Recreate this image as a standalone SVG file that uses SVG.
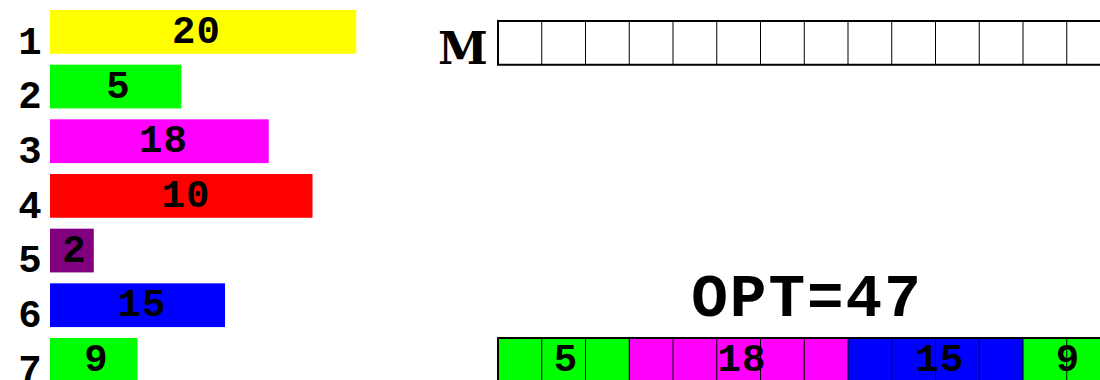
<svg xmlns="http://www.w3.org/2000/svg" width="1100" height="380" viewBox="0 0 1100 380">
<style>
text{font-family:"Liberation Mono","DejaVu Sans Mono",monospace;font-weight:bold;fill:#000}
.lbl{font-size:39px;text-anchor:middle;letter-spacing:1px}
.num{font-size:39px;text-anchor:middle}
.big{font-size:61px;text-anchor:middle;letter-spacing:2px}
.cell{fill:none;stroke:#000;stroke-width:1}
.frame{fill:none;stroke:#000;stroke-width:2}
</style>
<rect width="1100" height="380" fill="#fff"/>
<g id="items">
  <g id="item1"><rect x="50" y="10" width="306.25" height="43.75" fill="#ffff00"/><text class="lbl" x="196.5" y="43">20</text><text class="num" x="30" y="53.5">1</text></g>
  <g id="item2"><rect x="50" y="64.67" width="131.25" height="43.75" fill="#00ff00"/><text class="num" x="118" y="97.7">5</text><text class="num" x="30" y="108.2">2</text></g>
  <g id="item3"><rect x="50" y="119.33" width="218.75" height="43.75" fill="#ff00ff"/><text class="lbl" x="163.5" y="152.3">18</text><text class="num" x="30" y="162.9">3</text></g>
  <g id="item4"><rect x="50" y="174" width="262.5" height="43.75" fill="#ff0000"/><text class="lbl" x="186" y="207">10</text><text class="num" x="30" y="217.6">4</text></g>
  <g id="item5"><rect x="50" y="228.67" width="43.75" height="43.75" fill="#800080"/><text class="num" x="74" y="261.7">2</text><text class="num" x="30" y="272.3">5</text></g>
  <g id="item6"><rect x="50" y="283.33" width="175" height="43.75" fill="#0000ff"/><text class="lbl" x="142" y="316.3">15</text><text class="num" x="30" y="326.9">6</text></g>
  <g id="item7"><rect x="50" y="338" width="87.5" height="43.75" fill="#00ff00"/><text class="num" x="96" y="371">9</text><text class="num" x="30" y="381.5">7</text></g>
</g>
<g id="memory">
  <text x="463" y="63.5" style="font-family:'DejaVu Serif','Liberation Serif',serif;font-size:45px;text-anchor:middle">M</text>
  <rect class="frame" x="498" y="21" width="612.5" height="43.75"/>
  <path class="cell" stroke="#555" d="M541.75 21V64.75M585.5 21V64.75M629.25 21V64.75M673 21V64.75M716.75 21V64.75M760.5 21V64.75M804.25 21V64.75M848 21V64.75M891.75 21V64.75M935.5 21V64.75M979.25 21V64.75M1023 21V64.75M1066.75 21V64.75"/>
</g>
<g id="opt">
  <text class="big" x="807" y="316">OPT=47</text>
</g>
<g id="packing">
  <rect x="498" y="338" width="131.25" height="43.75" fill="#00ff00"/>
  <rect x="629.25" y="338" width="218.75" height="43.75" fill="#ff00ff"/>
  <rect x="848" y="338" width="175" height="43.75" fill="#0000ff"/>
  <rect x="1023" y="338" width="87.5" height="43.75" fill="#00ff00"/>
  <path class="cell" d="M541.75 338V382M585.5 338V382M629.25 338V382M673 338V382M716.75 338V382M760.5 338V382M804.25 338V382M848 338V382M891.75 338V382M935.5 338V382M979.25 338V382M1023 338V382M1066.75 338V382"/>
  <rect class="frame" x="498" y="338" width="612.5" height="43.75"/>
  <text class="num" x="565.5" y="371">5</text>
  <text class="lbl" x="742" y="371">18</text>
  <text class="lbl" x="940" y="371">15</text>
  <text class="num" x="1067.5" y="371">9</text>
</g>
</svg>
